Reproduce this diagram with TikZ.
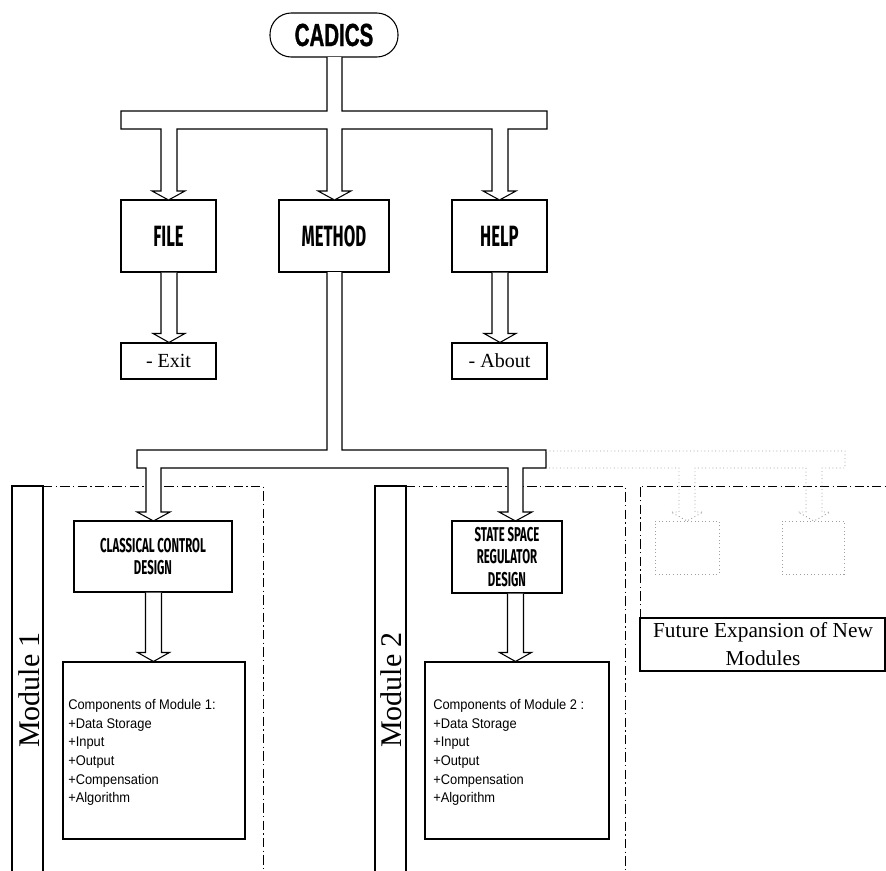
\documentclass[tikz,border=0pt]{standalone}
\usepackage{fontspec}
\setmainfont{Liberation Serif}
\newfontfamily\impactf[FakeStretch=0.64, BoldFeatures={FakeBold=1}]{Liberation Sans}
\newfontfamily\decof[FakeStretch=0.57]{Fira Sans}
\newfontfamily\narrowf[FakeStretch=0.92]{Liberation Sans}
\usetikzlibrary{calc}
\tikzset{
  bx/.style 2 args={draw, line width=0.8pt, fill=white, minimum width=#1*0.75pt, minimum height=#2*0.75pt, inner sep=0pt},
  blk/.style={draw, line width=0.8pt, fill=white, line join=miter},
  ghost/.style={draw=gray!75, line width=0.7pt, dotted},
  dashdot/.style={line width=0.7pt, dash pattern=on 7pt off 2.5pt on 1pt off 2.5pt},
  decotxt/.style={font=\decof\bfseries\fontsize{22}{24}\selectfont},
  decosm/.style={font=\decof\bfseries\fontsize{15}{17}\selectfont, align=center},
  tmtxt/.style={font=\fontsize{15}{17}\selectfont},
  comptxt/.style={font=\narrowf\fontsize{10.5}{14}\selectfont, align=left, anchor=north west, inner sep=0pt},
}
\newcommand\varrow[3]{%
  \path (#1,0) coordinate (ax);
  \draw[blk] ($(ax |- #2.south)+(-8,0)$) -- ($(ax |- #3.north)+(-8,-9)$) -- ($(ax |- #3.north)+(-16,-9)$) -- (ax |- #3.north) -- ($(ax |- #3.north)+(16,-9)$) -- ($(ax |- #3.north)+(8,-9)$) -- ($(ax |- #2.south)+(8,0)$);
}
\begin{document}
\begin{tikzpicture}[x=0.75pt,y=-0.75pt]
\useasboundingbox (0,0) rectangle (886,871);

% module frames (dash-dot)
\draw[line width=0.8pt] (12,875) -- (12,486) -- (43,486) -- (43,875);
\draw[dashdot] (43,486) -- (263,486) -- (263,875);
\draw[line width=0.8pt] (375,875) -- (375,486) -- (406,486) -- (406,875);
\draw[dashdot] (406,486) -- (625,486) -- (625,875);
\draw[dashdot] (640,618) -- (640,486) -- (890,486);

% top node
\node[draw, line width=0.8pt, rounded corners=16pt, minimum width=128*0.75pt, minimum height=44*0.75pt, inner sep=0pt,
      font=\impactf\bfseries\fontsize{24}{25}\selectfont] (cadics) at (334,35) {CADICS};

% menu boxes
\node[bx={95}{72}, decotxt] (file) at (168.5,236) {FILE};
\node[bx={110}{72}, decotxt] (method) at (334,236) {METHOD};
\node[bx={95}{72}, decotxt] (help) at (499.5,236) {HELP};
\node[bx={95}{36}, tmtxt] (exit) at (168.5,361) {- Exit};
\node[bx={95}{36}, tmtxt] (about) at (499.5,361) {- About};

% top T connector
\draw[blk] (327,57) -- (327,111) -- (121,111) -- (121,129) -- (161,129) -- (161,191) -- (152,191) -- (168.5,200) -- (185,191) -- (177,191) -- (177,129)
  -- (327,129) -- (327,191) -- (318,191) -- (334.5,200) -- (351,191) -- (342,191) -- (342,129)
  -- (492,129) -- (492,191) -- (483,191) -- (499.5,200) -- (516,191) -- (508,191) -- (508,129)
  -- (547,129) -- (547,111) -- (342,111) -- (342,57);

\varrow{169}{file}{exit}
\varrow{500}{help}{about}

% method lower connector
\draw[blk] (327,272) -- (327,450) -- (137,450) -- (137,468) -- (146,468) -- (146,512) -- (137,512) -- (153.5,521) -- (170,512) -- (161,512) -- (161,468)
  -- (508,468) -- (508,512) -- (499,512) -- (515.5,521) -- (532,512) -- (523,512) -- (523,468) -- (546,468) -- (546,450) -- (342,450) -- (342,272);

% future expansion (dotted)
\draw[ghost] (546,451) -- (845,451) -- (845,468) -- (822,468) -- (822,512) -- (830,512) -- (814,521) -- (798,512) -- (806,512) -- (806,468)
  -- (695,468) -- (695,512) -- (703,512) -- (687,521) -- (671,512) -- (679,512) -- (679,468) -- (546,468);
\node[ghost, minimum width=64*0.75pt, minimum height=53*0.75pt, inner sep=0pt] (g1) at (687,547.5) {};
\node[ghost, minimum width=62*0.75pt, minimum height=53*0.75pt, inner sep=0pt] (g2) at (813,547.5) {};

% module boxes
\node[bx={158}{71}, decosm] (classical) at (153,556.5) {CLASSICAL CONTROL\\DESIGN};
\node[bx={110}{72}, decosm] (state) at (507,557) {STATE SPACE\\REGULATOR\\DESIGN};
\node[bx={182}{177}] (comp1) at (154,750.5) {};
\node[bx={184}{177}] (comp2) at (517,750.5) {};
\node[comptxt] at (68,699) {Components of Module 1:\\+Data Storage\\+Input\\+Output\\+Compensation\\+Algorithm};
\node[comptxt] at (433,699) {Components of Module 2 :\\+Data Storage\\+Input\\+Output\\+Compensation\\+Algorithm};

\varrow{153.5}{classical}{comp1}
\varrow{515.5}{state}{comp2}

% module labels
\node[rotate=90, font=\fontsize{22.5}{24}\selectfont, inner sep=0pt] (m1) at (29,690) {Module 1};
\node[rotate=90, font=\fontsize{22.5}{24}\selectfont, inner sep=0pt] (m2) at (391,690) {Module 2};

% future box
\draw[line width=0.8pt] (888,618) -- (640,618) -- (640,671) -- (888,671);
\draw[line width=0.8pt] (885,618) -- (885,671);
\node[align=center, font=\fontsize{16}{21}\selectfont] (future) at (763,644) {Future Expansion of New\\Modules};
\end{tikzpicture}
\end{document}
